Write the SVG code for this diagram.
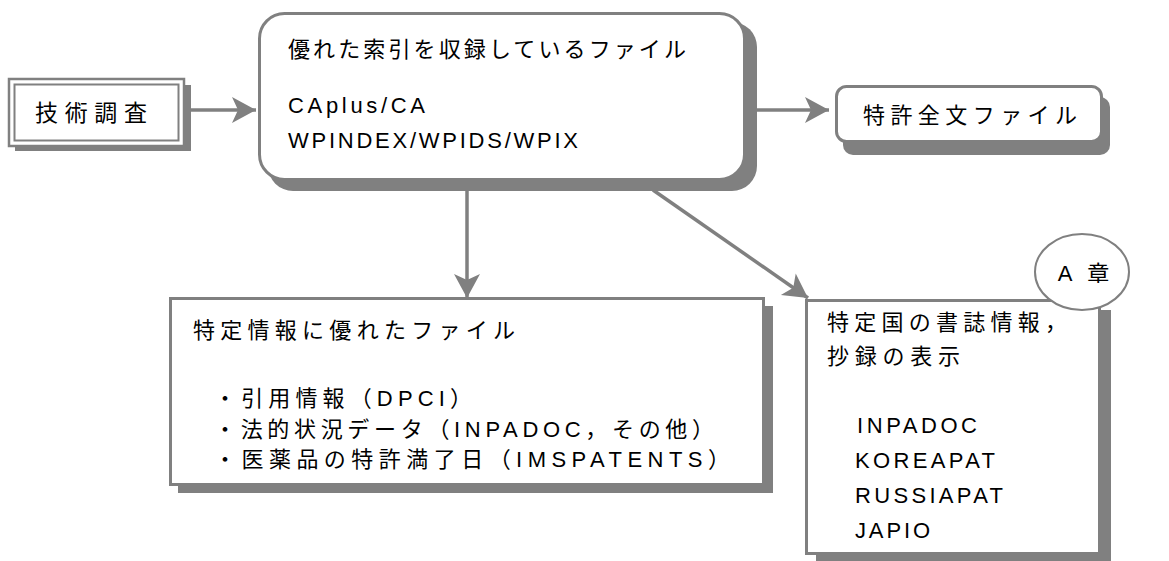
<svg xmlns="http://www.w3.org/2000/svg" width="1169" height="561" viewBox="0 0 1169 561">
<style>
text{font-family:"Liberation Sans","Noto Sans CJK JP",sans-serif;font-size:22px;fill:#000}
.box{fill:#fff;stroke:#808080;stroke-width:3}
.shadow{fill:#808080}
.conn{stroke:#808080;stroke-width:3.5;fill:none}
</style>
<defs>
<marker id="ah" markerUnits="userSpaceOnUse" markerWidth="28" markerHeight="30" viewBox="-2 -15 28 30" refX="24" refY="0" orient="auto">
<path d="M0,-13 L24,0 L0,13 L6,0 Z" fill="#808080"/>
</marker>
</defs>
<rect width="1169" height="561" fill="#fff"/>

<g id="connectors">
<line class="conn" x1="186" y1="110" x2="256" y2="110" marker-end="url(#ah)"/>
<line class="conn" x1="757" y1="110" x2="829" y2="110" marker-end="url(#ah)"/>
<line class="conn" x1="467" y1="191" x2="467" y2="298" marker-end="url(#ah)"/>
<line class="conn" x1="653" y1="190" x2="808" y2="298" marker-end="url(#ah)"/>
</g>

<g id="node-gijutsu">
<rect class="shadow" x="15" y="85" width="176" height="66"/>
<rect x="9" y="79" width="175" height="67" fill="#fff" stroke="#808080" stroke-width="2.5"/>
<rect x="14.5" y="84.5" width="164" height="56" fill="none" stroke="#808080" stroke-width="2"/>
<text x="35" y="121" textLength="112" lengthAdjust="spacing" style="font-size:23px">技術調査</text>
</g>

<g id="node-index">
<rect class="shadow" x="268" y="22" width="489" height="169" rx="25"/>
<rect class="box" x="259.5" y="13.5" width="485" height="166" rx="25"/>
<text x="288" y="57" textLength="398" lengthAdjust="spacing">優れた索引を収録しているファイル</text>
<text x="288" y="113" textLength="137" lengthAdjust="spacing">CAplus/CA</text>
<text x="288" y="148" textLength="290" lengthAdjust="spacing">WPINDEX/WPIDS/WPIX</text>
</g>

<g id="node-fulltext">
<rect class="shadow" x="843" y="97" width="267" height="58" rx="10"/>
<rect class="box" x="836.5" y="86.5" width="265" height="55" rx="10" stroke-width="4"/>
<text x="863" y="123" textLength="214" lengthAdjust="spacing">特許全文ファイル</text>
</g>

<g id="node-specific">
<rect class="shadow" x="178" y="306" width="595" height="187"/>
<rect class="box" x="170.5" y="298.5" width="593" height="186"/>
<text x="193" y="338" textLength="322" lengthAdjust="spacing">特定情報に優れたファイル</text>
<text x="214" y="406" textLength="258" lengthAdjust="spacing">・引用情報（DPCI）</text>
<text x="214" y="437" textLength="500" lengthAdjust="spacing">・法的状況データ（INPADOC，その他）</text>
<text x="214" y="467" textLength="516" lengthAdjust="spacing">・医薬品の特許満了日（IMSPATENTS）</text>
</g>

<g id="node-country">
<rect class="shadow" x="816" y="310" width="295" height="253"/>
<rect class="box" x="806.5" y="300.5" width="293" height="253"/>
<text x="827" y="330" textLength="240" lengthAdjust="spacing">特定国の書誌情報，</text>
<text x="827" y="364" textLength="133" lengthAdjust="spacing">抄録の表示</text>
<text x="857" y="433" textLength="120" lengthAdjust="spacing">INPADOC</text>
<text x="855" y="468" textLength="140" lengthAdjust="spacing">KOREAPAT</text>
<text x="855" y="503" textLength="148" lengthAdjust="spacing">RUSSIAPAT</text>
<text x="855" y="538" textLength="75" lengthAdjust="spacing">JAPIO</text>
</g>

<g id="node-chapter">
<ellipse cx="1082" cy="272" rx="47" ry="38" fill="#fff" stroke="#808080" stroke-width="2"/>
<text x="1086" y="281" text-anchor="middle" letter-spacing="5">A 章</text>
</g>
</svg>
